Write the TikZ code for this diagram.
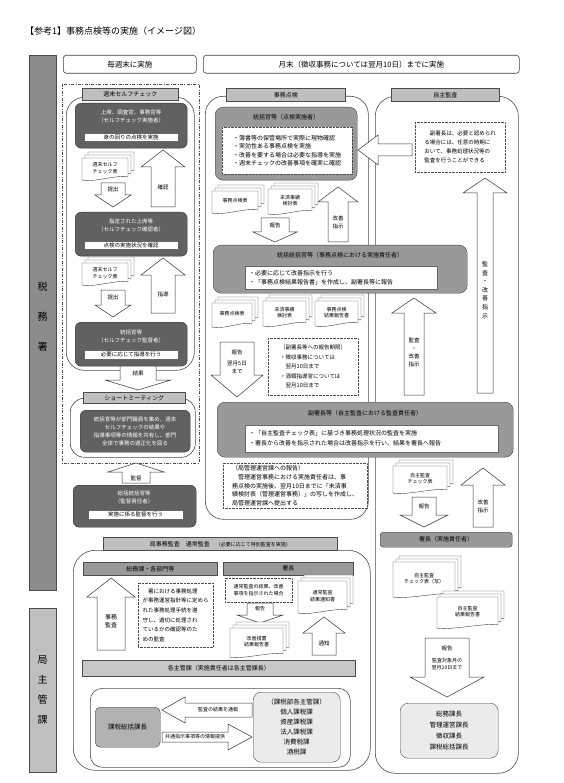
\documentclass[tikz,border=0pt]{standalone}
\usepackage{fontspec}
\setmainfont{Noto Sans CJK JP}
\usetikzlibrary{positioning}

\tikzset{
  f5/.style={font=\fontsize{5}{6.5}\selectfont},
  f55/.style={font=\fontsize{5.5}{8}\selectfont},
  f6/.style={font=\fontsize{6}{8.5}\selectfont},
  f7/.style={font=\fontsize{7.5}{9.5}\selectfont},
  txt/.style={inner sep=0pt, align=center},
  framebox/.style={draw=black!75, line width=0.4pt, double, double distance=1.2pt},
  labelbar/.style={draw=black!70, fill=black!45},
  hdrbox/.style={draw=black!75, fill=white, rounded corners=3pt, line width=0.6pt},
  roundcol/.style={draw=black!70, fill=white, rounded corners=18pt, line width=0.6pt},
  banner/.style={draw=black!70, fill=black!25, line width=0.5pt},
  darkbox/.style={draw=black!80, fill=black!62, rounded corners=6pt},
  greybox/.style={draw=black!75, fill=black!40, rounded corners=8pt},
  lightbox/.style={draw=black!70, fill=black!8, rounded corners=8pt},
  whitebar/.style={draw=black!60, fill=white},
  dotbox/.style={draw=black!70, densely dotted, fill=white},
  docsheet/.style={draw=black!75, fill=white, line width=0.4pt},
  doctext/.style={txt, f5},
  blkarr/.style={draw=black!80, fill=white, line width=0.5pt, line join=miter},
}

% box as a node from its top left to its bottom right corner
\newcommand\boxat[7]{\node[#2,anchor=north west,inner sep=0pt,align=center,
  minimum width={(#5-#3)*1pt},minimum height={(#6-#4)*1pt}] (#1) at (#3,#4) {#7};}
% block arrows: vertical (x, tip, head, end, half body, half head) and horizontal
\newcommand\blkv[6]{\filldraw[blkarr] (#1,#2) -- ({#1+#6},#3) -- ({#1+#5},#3) -- ({#1+#5},#4)
  -- ({#1-#5},#4) -- ({#1-#5},#3) -- ({#1-#6},#3) -- cycle;}
\newcommand\blkh[6]{\filldraw[blkarr] (#2,#1) -- (#3,{#1+#6}) -- (#3,{#1+#5}) -- (#4,{#1+#5})
  -- (#4,{#1-#5}) -- (#3,{#1-#5}) -- (#3,{#1-#6}) -- cycle;}
% stack of sheets
\newcommand\docstack[6]{%
  \foreach \d in {6,3}{\filldraw[docsheet] ({#2+\d},{#3-\d}) -- ({#4+\d},{#3-\d}) -- ({#4+\d},{#5-\d-3})
    .. controls ({#4+\d-8},{#5-\d-6}) and ({#2+\d+10},{#5-\d+3}) .. ({#2+\d},{#5-\d}) -- cycle;}
  \filldraw[docsheet] (#2,#3) -- (#4,#3) -- (#4,{#5-3})
    .. controls ({#4-8},{#5-6}) and ({#2+10},{#5+3}) .. (#2,#5) -- cycle;
  \node[doctext] (#1) at ({(#2+#4)/2},{(#3+#5)/2-1}) {#6};}

\begin{document}
\begin{tikzpicture}[x=1pt,y=-1pt]
\useasboundingbox[fill=white] (0,0) rectangle (563,783);

\node[anchor=west,inner sep=0pt,font=\fontsize{9}{11}\selectfont] (title) at (25,31) {【参考1】事務点検等の実施（イメージ図）};

% frames and side labels
\draw[framebox] (23,48) rectangle (527,594);
\draw[framebox] (23,602) rectangle (530,776);
\boxat{zeimusho}{labelbar}{29}{55}{56}{590}{}
\node[txt,font=\fontsize{10}{30}\selectfont] (zeimushotxt) at (42.5,317) {税\\務\\署};
\boxat{kyoku}{labelbar,fill=black!25}{29}{608}{56}{772}{}
\node[txt,font=\fontsize{10}{20}\selectfont] (kyokutxt) at (kyoku) {局\\主\\管\\課};

\boxat{hdrweek}{hdrbox,f7}{63}{55}{196}{73}{毎週末に実施}
\boxat{hdrmonth}{hdrbox,f7}{203}{55}{519}{73}{月末（徴収事務については翌月10日）までに実施}

% columns
\draw[black!70,line width=0.6pt,dash pattern=on 3pt off 1.5pt on 0.8pt off 1.5pt] (62,84) rectangle (199,463);
\boxat{selfcol}{roundcol}{66}{97}{194}{370}{}
\boxat{selfban}{banner,f6}{82}{88}{178}{100}{週末セルフチェック}
\boxat{tenkencol}{roundcol}{205}{96}{368}{519}{}
\boxat{tenkenban}{banner,f6}{226}{88}{345}{101}{事務点検}
\boxat{jishucol}{roundcol,rounded corners=20pt}{375}{96}{518}{773}{}
\boxat{jishuban}{banner,f6}{391}{88}{499}{101}{自主監査}
\boxat{kansacol}{roundcol,rounded corners=22pt}{73}{550}{370}{770}{}
\boxat{kansaban}{banner,f6}{103}{537}{337}{550}{局事務監査　通常監査\quad{\fontsize{5}{6}\selectfont（必要に応じて特別監査を実施）}}

% weekly self check
\boxat{jisshi}{darkbox}{75}{103}{187}{148}{}
\node[txt,f55,text=white] (jisshittl) at (131,116) {上席、調査官、事務官等\\（セルフチェック実施者）};
\boxat{jisshibar}{whitebar,f55}{84}{133}{178}{141}{身の回りの点検を実施}
\docstack{selfsheetA}{82}{158}{128}{180}{週末セルフ\\チェック表}
\blkv{113}{207}{195}{183}{12}{18}
\node[txt,f55] (teishutsuA) at (113,189) {提出};
\blkv{163}{150}{167}{207}{12}{22}
\node[txt,f55] (kakunin) at (163,187) {確認};

\boxat{kakuninsha}{darkbox}{75}{212}{187}{256}{}
\node[txt,f55,text=white] (kakuninttl) at (131,225) {指定された上席等\\（セルフチェック確認者）};
\boxat{kakuninbar}{whitebar,f55}{84}{241}{178}{249}{点検の実施状況を確認}
\docstack{selfsheetB}{82}{263}{128}{285}{週末セルフ\\チェック表}
\blkv{113}{317}{305}{290}{12}{18}
\node[txt,f55] (teishutsuB) at (113,297) {提出};
\blkv{163}{258}{275}{313}{12}{22}
\node[txt,f55] (shido) at (163,294) {指導};

\boxat{kantoku}{darkbox}{75}{322}{187}{366}{}
\node[txt,f55,text=white] (kantokuttl) at (131,336) {統括官等\\（セルフチェック監督者）};
\boxat{kantokubar}{whitebar,f55}{84}{350}{178}{359}{必要に応じて指導を行う}

\blkv{138}{390}{380}{366}{18}{33}
\node[txt,f55] (kekka) at (138,373) {結果};

\boxat{meetcol}{roundcol,rounded corners=14pt}{70}{398}{195}{457}{}
\boxat{meetban}{banner,f6}{83}{392}{185}{403}{ショートミーティング}
\boxat{meetbox}{darkbox}{80}{410}{190}{452}{}
\node[txt,f55,text=white] (meettxt) at (meetbox) {統括官等が部門職員を集め、週末\\セルフチェックの結果や\\指導事項等の情報を共有し、部門\\全体で事務の適正化を図る};

\blkv{136}{463}{472}{483}{14}{28}
\node[txt,f55] (kantokuarr) at (136,478) {監督};
\boxat{sokatsu}{darkbox}{73}{485}{196}{527}{}
\node[txt,f55,text=white] (sokatsuttl) at (134,497) {総括統括官等\\（監督責任者）};
\boxat{sokatsubar}{whitebar,f55}{88}{510}{183}{519}{実施に係る監督を行う}

% monthly check
\boxat{tenken}{greybox}{215}{107}{357}{180}{}
\node[txt,f6] (tenkenttl) at (286,117) {統括官等（点検実施者）};
\boxat{tenkenlist}{dotbox}{222}{127}{352}{174}{}
\node[txt,align=left,font=\fontsize{6}{8.3}\selectfont] (tenkenlisttxt) at (tenkenlist) {・簿書等の保管場所で実際に現物確認\\・実効性ある事務点検を実施\\・改善を要する場合は必要な指導を実施\\・週末チェックの改善事項を確実に確認};
\docstack{tenkenhyoA}{212}{191}{258}{213}{事務点検表}
\docstack{misaiA}{268}{189}{312}{214}{未済事績\\検討表}
\blkv{275}{242}{232}{218}{14}{22}
\node[txt,f55] (hokokuA) at (275,225) {報告};
\blkv{338}{187}{202}{242}{10}{20}
\node[txt,f55] (kaizenA) at (338,222) {改善\\指示};

\boxat{sekinin}{greybox}{213}{245}{467}{293}{}
\node[txt,f6] (sekininttl) at (340,255) {統括統括官等（事務点検における実施責任者）};
\boxat{sekininbar}{whitebar}{245}{266}{437}{289}{}
\node[txt,align=left,font=\fontsize{6}{9.5}\selectfont,anchor=west] (sekinintxt) at (249,277.5) {・必要に応じて改善指示を行う\\・「事務点検結果報告書」を作成し、副署長等に報告};
\docstack{tenkenhyoB}{212}{303}{252}{327}{事務点検表}
\docstack{misaiB}{263}{301}{306}{326}{未済事績\\検討表}
\docstack{kekkaB}{315}{301}{358}{326}{事務点検\\結果報告書}
\blkv{237}{397}{375}{342}{17}{26}
\node[txt,f55] (hokokuB) at (237,352) {報告};
\node[txt,f55] (kigenB) at (237,367) {翌月5日\\まで};
\boxat{kigen}{dotbox}{268}{338}{358}{395}{}
\node[txt,align=left,font=\fontsize{5.5}{9.5}\selectfont] (kigentxt) at (kigen) {（副署長等への報告期限）\\・徴収事務については\\　翌月10日まで\\・酒類指導官については\\　翌月10日まで};

\boxat{fukushocho}{greybox}{217}{402}{513}{457}{}
\node[txt,f6] (fukushochottl) at (365,413) {副署長等（自主監査における監査責任者）};
\boxat{fukushochobar}{whitebar}{245}{425}{498}{452}{}
\node[txt,align=left,font=\fontsize{6}{10}\selectfont,anchor=west] (fukushochotxt) at (249,438.5) {・「自主監査チェック表」に基づき事務処理状況の監査を実施\\・署長から改善を指示された場合は改善指示を行い、結果を署長へ報告};
\boxat{kanriunei}{dotbox}{223}{463}{367}{508}{}
\node[txt,align=left,font=\fontsize{6}{8.7}\selectfont] (kanrieunetxt) at (kanriunei) {（局管理運営課への報告）\\　管理運営事務における実施責任者は、事\\務点検の実施後、翌月10日までに「未済事\\績検討表（管理運営事務）」の写しを作成し、\\局管理運営課へ提出する};

% self audit
\boxat{ninibox}{dotbox}{415}{122}{505}{172}{}
\node[txt,align=left,font=\fontsize{5.5}{9}\selectfont] (ninitxt) at (ninibox) {　副署長は、必要と認められ\\る場合には、任意の時期に\\おいて、事務処理状況等の\\監査を行うことができる};
\blkh{150}{358}{378}{412}{6}{15}
\blkv{485}{178}{193}{393}{8}{22}
\node[txt,font=\fontsize{6}{8.6}\selectfont] (kansaL) at (485,290) {監\\査\\・\\改\\善\\指\\示};
\blkv{414}{298}{313}{395}{10}{22}
\node[txt,font=\fontsize{5.5}{8}\selectfont] (kansaS) at (414,352) {監査\\・\\改善\\指示};

\docstack{jishuhyo}{393}{466}{447}{493}{自主監査\\チェック表}
\blkv{424}{527}{515}{497}{12}{24}
\node[txt,f55] (hokokuC) at (424,506) {報告};
\blkv{483}{468}{485}{527}{10}{22}
\node[txt,f55] (kaizenC) at (483,506) {改善\\指示};
\boxat{shocho}{greybox,rounded corners=3pt,f6}{380}{532}{512}{547}{署長（実施責任者）}
\docstack{jishuhyoutsushi}{393}{562}{455}{597}{自主監査\\チェック表（写）}
\docstack{jishukekka}{437}{597}{498}{628}{自主監査\\結果報告書}
\blkv{447}{697}{677}{638}{22}{37}
\node[txt,f55] (hokokuD) at (447,648) {報告};
\node[txt,f5] (kigenD) at (447,664) {監査対象月の\\翌月20日まで};
\boxat{kyokuka}{lightbox,font=\fontsize{6.5}{11}\selectfont}{400}{703}{498}{758}{総務課長\\管理運営課長\\徴収課長\\課税総括課長}

% audit by the bureau
\boxat{kakubumon}{banner,fill=black!40,f6}{83}{562}{217}{575}{総務課・各部門等}
\boxat{shochoB}{banner,fill=black!40,f6}{223}{562}{353}{575}{署長}
\blkv{111}{578}{597}{650}{14}{24}
\node[txt,f6] (jimukansa) at (111,621) {事務\\監査};
\boxat{mokuteki}{dotbox}{138}{583}{213}{647}{}
\node[txt,align=left,font=\fontsize{5.5}{9.7}\selectfont] (mokutekitxt) at (mokuteki) {　署における事務処理\\が事務運営指針等に定めら\\れた事務処理手続を遵\\守し、適切に処理され\\ているかの確認等のた\\めの監査};
\boxat{kaizenjoken}{dotbox,f5}{225}{578}{292}{602}{通常監査の結果、改善\\事項を指示された場合}
\blkv{260}{623}{615}{603}{13}{23}
\node[txt,f5] (hokokuE) at (260,609) {報告};
\docstack{kaizenrep}{230}{628}{283}{657}{改善措置\\結果報告書}
\docstack{tsuchisho}{298}{581}{347}{613}{通常監査\\結果通知書}
\blkv{324}{617}{633}{655}{12}{21}
\node[txt,f55] (tsuchi) at (324,643) {通知};

\boxat{shukanbar}{banner,fill=black!22,f6}{82}{660}{355}{676}{各主管課（実施責任者は各主管課長）}
\boxat{shukanin}{roundcol,rounded corners=12pt}{90}{688}{350}{767}{}
\boxat{kazeisokatsu}{greybox,fill=black!30,rounded corners=5pt,font=\fontsize{6.5}{8}\selectfont}{95}{707}{160}{747}{課税総括課長}
\boxat{kazeibu}{lightbox,font=\fontsize{6.5}{10}\selectfont}{253}{692}{340}{762}{（課税部各主管課）\\個人課税課\\資産課税課\\法人課税課\\消費税課\\酒税課}
\blkh{710}{162}{185}{252}{7}{13}
\node[txt,f5] (tsuho) at (218,710) {監査の結果を通報};
\blkh{737}{252}{228}{162}{5}{13}
\node[txt,f5] (joho) at (195,737) {共通指示事項等の情報提供};
\end{tikzpicture}
\end{document}
